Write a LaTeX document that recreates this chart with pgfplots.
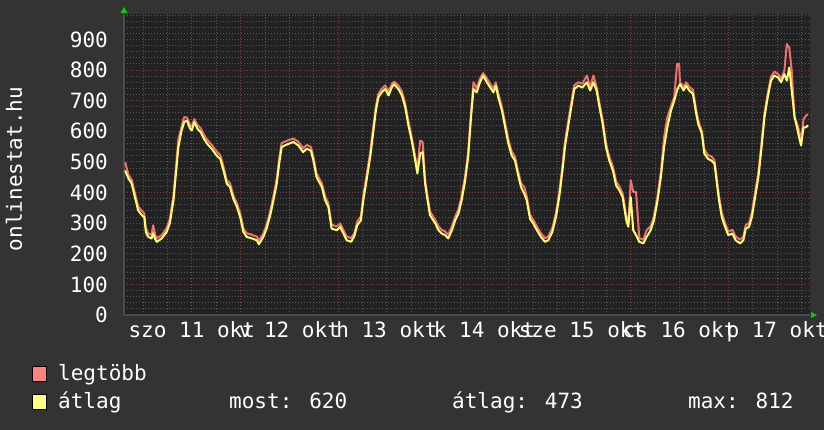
\documentclass[border=0pt]{standalone}
\usepackage{fontspec}
\setmainfont{DejaVu Sans Mono}
\usepackage{pgfplots}
\usepackage{pgfplotstable}
\pgfplotsset{compat=1.18}
\definecolor{canvas}{HTML}{333333}
\definecolor{plotbg}{HTML}{222222}
\definecolor{mgrid}{HTML}{8A3C3C}
\definecolor{sgrid}{HTML}{565656}
\definecolor{axcol}{HTML}{4A4A4A}
\definecolor{maxc}{HTML}{F07070}
\definecolor{avgc}{HTML}{FFFF70}
\definecolor{legred}{HTML}{FF8080}
\definecolor{legyel}{HTML}{FFFF80}
\definecolor{arrowg}{HTML}{00D000}

\pgfplotstableread{
h v
-4.4 472
-3.6 446
-2.8 430
-2.0 385
-1.2 342
-0.3 326
0.3 320
0.7 271
1.3 255
2.1 250
2.5 267
3.0 248
3.4 239
4.6 250
5.8 271
6.6 300
7.5 375
8.1 462
8.7 548
9.4 597
10.1 630
10.8 635
11.6 608
12.0 603
12.6 630
13.4 608
14.2 597
15.0 575
15.8 559
16.9 543
18.1 521
19.0 510
19.8 472
20.6 429
21.4 418
22.2 380
23.1 353
23.9 320
24.7 271
25.5 255
26.8 250
28.0 244
28.5 231
29.6 255
30.4 282
31.3 326
32.1 375
32.9 429
33.5 494
34.1 548
34.9 554
35.8 559
37.0 565
38.2 554
39.4 532
40.3 543
41.3 537
41.9 505
42.7 450
44.0 418
44.8 375
45.6 353
46.4 282
47.7 277
48.5 288
49.3 266
50.1 244
51.2 239
52.0 258
52.7 293
53.6 309
54.2 375
55.0 440
55.9 516
56.7 603
57.3 668
57.9 711
58.7 727
59.6 738
60.4 717
61.2 743
61.8 754
62.8 738
63.7 717
64.5 679
65.3 619
66.1 570
66.9 510
67.5 462
68.2 527
68.8 532
69.4 429
70.0 375
70.6 326
71.9 299
72.7 277
73.5 266
74.3 261
75.1 250
76.0 277
76.8 309
77.6 331
78.4 375
79.2 435
80.0 516
80.7 646
81.3 738
82.1 727
82.9 760
83.7 782
84.6 760
85.4 743
86.2 727
86.8 749
87.4 711
88.3 668
89.1 613
89.9 559
90.7 521
91.5 505
92.2 462
93.0 418
93.8 396
94.4 375
95.2 315
96.0 299
96.9 277
97.9 255
98.9 239
99.7 244
100.7 271
101.6 320
102.4 385
103.2 472
103.8 548
104.7 624
105.5 690
106.1 738
107.1 749
108.1 743
109.2 760
110.0 733
110.8 760
111.6 733
112.3 679
113.1 624
113.9 548
114.7 505
115.6 472
116.4 423
117.2 407
118.0 385
118.9 309
119.4 288
120.0 385
120.6 277
121.3 261
122.1 239
123.1 234
123.9 255
124.9 277
125.7 309
126.6 375
127.4 450
128.2 548
129.0 613
129.9 668
130.7 700
131.5 738
132.1 754
133.0 733
133.6 749
134.4 733
135.3 722
136.1 657
136.6 624
137.5 592
138.1 527
139.0 510
139.8 505
140.6 494
141.2 429
141.7 375
142.4 320
143.2 288
144.0 261
145.0 266
145.8 244
146.9 234
147.7 244
148.3 282
149.1 288
149.8 320
150.6 385
151.4 450
152.1 537
152.9 646
153.7 711
154.5 765
155.3 782
156.2 776
157.0 760
157.8 787
158.4 765
159.0 808
159.6 733
160.3 646
160.9 613
161.4 581
161.9 554
162.5 613
163.1 613
163.6 619
}\avgtable

\pgfplotstableread{
h v
-4.4 499
-3.6 458
-2.8 442
-2.0 398
-1.2 355
-0.3 340
0.3 332
0.7 283
1.3 266
2.1 262
2.5 293
3.0 262
3.4 250
4.6 261
5.8 283
6.6 314
7.5 392
8.1 480
8.7 575
9.4 610
10.1 646
10.8 645
11.6 620
12.0 615
12.6 640
13.4 620
14.2 610
15.0 588
15.8 572
16.9 556
18.1 534
19.0 522
19.8 484
20.6 440
21.4 430
22.2 392
23.1 365
23.9 332
24.7 283
25.5 267
26.8 262
28.0 256
28.5 243
29.6 266
30.4 294
31.3 340
32.1 390
32.9 445
33.5 510
34.1 562
34.9 566
35.8 571
37.0 576
38.2 566
39.4 545
40.3 555
41.3 549
41.9 518
42.7 462
44.0 430
44.8 388
45.6 365
46.4 295
47.7 289
48.5 299
49.3 278
50.1 256
51.2 251
52.0 268
52.7 305
53.6 322
54.2 390
55.0 456
55.9 532
56.7 620
57.3 682
57.9 722
58.7 738
59.6 750
60.4 730
61.2 754
61.8 762
62.8 750
63.7 730
64.5 692
65.3 632
66.1 582
66.9 522
67.5 474
68.2 570
68.8 565
69.4 442
70.0 388
70.6 338
71.9 311
72.7 289
73.5 278
74.3 273
75.1 262
76.0 290
76.8 322
77.6 345
78.4 390
79.2 450
80.0 532
80.7 662
81.3 760
82.1 740
82.9 772
83.7 790
84.6 772
85.4 755
86.2 740
86.8 760
87.4 724
88.3 680
89.1 626
89.9 572
90.7 534
91.5 518
92.2 474
93.0 430
93.8 418
94.4 388
95.2 328
96.0 311
96.9 289
97.9 267
98.9 251
99.7 256
100.7 284
101.6 334
102.4 400
103.2 488
103.8 564
104.7 640
105.5 704
106.1 750
107.1 760
108.1 755
109.2 782
110.0 745
110.8 782
111.6 745
112.3 692
113.1 637
113.9 561
114.7 518
115.6 485
116.4 436
117.2 420
118.0 398
118.9 322
119.4 300
120.0 440
120.6 402
121.3 402
122.1 251
123.1 246
123.9 277
124.9 290
125.7 322
126.6 390
127.4 466
128.2 581
129.0 646
129.9 682
130.7 712
131.4 820
131.9 820
132.1 760
133.0 745
133.6 760
134.4 745
135.3 735
136.1 670
136.6 636
137.5 600
138.1 540
139.0 522
139.8 518
140.6 506
141.2 442
141.7 390
142.4 334
143.2 300
144.0 273
145.0 278
145.8 256
146.9 246
147.7 256
148.3 294
149.1 300
149.8 334
150.6 400
151.4 466
152.1 553
152.9 660
153.7 724
154.5 778
155.3 794
156.2 788
157.0 772
157.8 798
158.4 885
159.0 873
159.6 798
160.3 646
160.9 625
161.4 603
161.9 566
162.5 640
163.1 651
163.6 656
}\maxtable

\begin{document}
\begin{tikzpicture}[every node/.style={font=\fontsize{21}{25}\selectfont, text=white}]
\useasboundingbox (0pt,0pt) rectangle (824pt,430pt);
\fill[canvas] (0pt,0pt) rectangle (824pt,430pt);
\begin{axis}[
  at={(124pt,115pt)}, anchor=south west,
  width=686pt, height=301pt, scale only axis,
  xmin=-4.68, xmax=164.1, ymin=0, ymax=983,
  axis background/.style={fill=plotbg},
  axis x line*=bottom, axis y line*=left,
  axis line style={draw=axcol, line width=1.2pt},
  ytick={0,100,...,900},
  minor ytick={0,20,...,980},
  xtick={0,24,...,144},
  xticklabels={,,,,,,},
  minor xtick={6,12,...,162},
  grid=both,
  major grid style={draw=mgrid, line width=0.8pt, dash pattern=on 1pt off 2pt},
  minor grid style={draw=sgrid, line width=0.8pt, dash pattern=on 1pt off 2pt},
  major tick length=0pt, minor tick length=0pt,
  extra x ticks={12,36,60,84,108,132,156},
  extra x tick labels={szo 11 okt,v 12 okt,h 13 okt,k 14 okt,sze 15 okt,cs 16 okt,p 17 okt},
  extra x tick style={grid=none, major tick length=0pt},
  tick label style={font=\fontsize{21}{25}\selectfont, text=white},
  xticklabel style={anchor=base, inner sep=0pt, yshift=-23pt},
  yticklabel style={anchor=east, inner sep=0pt, xshift=-16pt},
  /pgf/number format/assume math mode=true,
  clip=true,
]
\addplot[maxc, line width=2pt, line join=round] table[x=h, y=v] {\maxtable};
\addplot[avgc, line width=2pt, line join=round] table[x=h, y=v] {\avgtable};
\end{axis}
% axis arrows
\fill[arrowg] (120.5pt,417pt) -- (127.5pt,417pt) -- (124pt,423pt) -- cycle;
\fill[arrowg] (811pt,112pt) -- (811pt,118pt) -- (817pt,115pt) -- cycle;
% y label
\node[rotate=90, anchor=center] at (14pt,261pt) {onlinestat.hu};
% legend
\filldraw[fill=legred, draw=black, line width=0.8pt] (32pt,49pt) rectangle (46pt,64pt);
\node[anchor=base west, inner sep=0pt] at (58pt,49pt) {legtöbb};
\filldraw[fill=legyel, draw=black, line width=0.8pt] (32pt,21pt) rectangle (46pt,36pt);
\node[anchor=base west, inner sep=0pt] at (58pt,21pt) {átlag};
\node[anchor=base west, inner sep=0pt] at (229pt,21pt) {most: 620};
\node[anchor=base west, inner sep=0pt] at (452pt,21pt) {átlag: 473};
\node[anchor=base west, inner sep=0pt] at (688pt,21pt) {max: 812};
\end{tikzpicture}
\end{document}
